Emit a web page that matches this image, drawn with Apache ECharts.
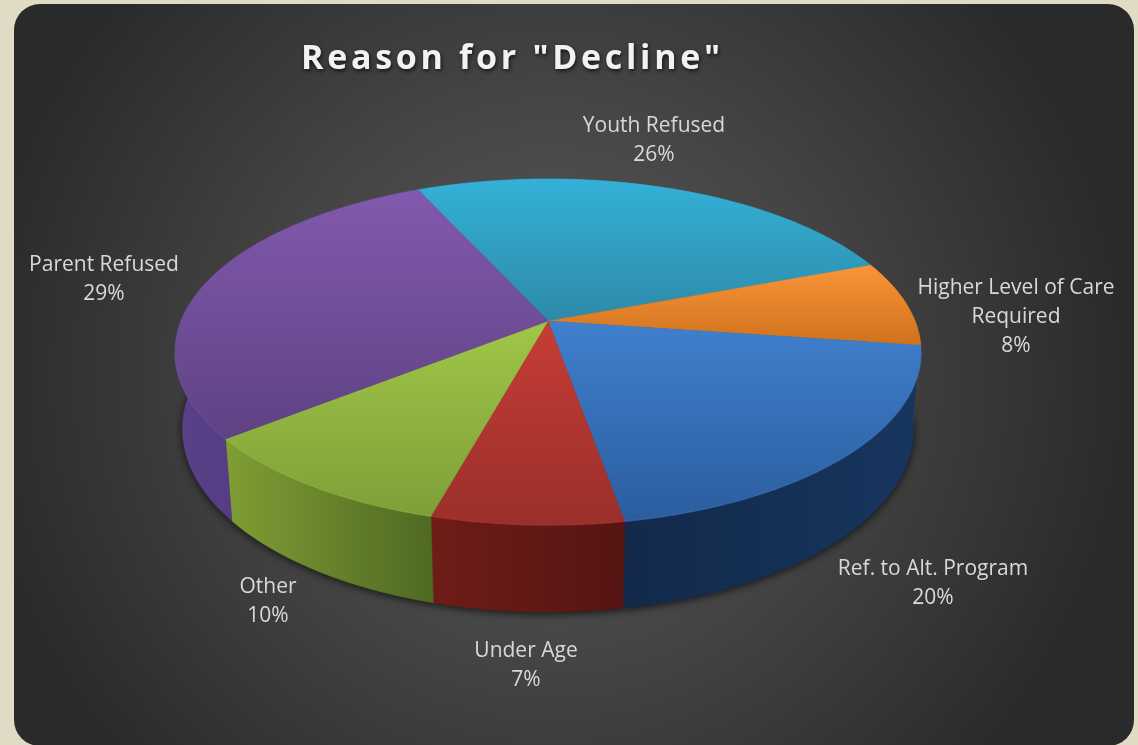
<!DOCTYPE html>
<html>
<head>
<meta charset="utf-8">
<title>Reason for "Decline"</title>
<style>html,body{margin:0;padding:0;background:#dfdbc4}#chart{width:1138px;height:745px}</style>
<script src="https://cdn.jsdelivr.net/npm/echarts@6/dist/echarts.min.js"></script>
</head>
<body>
<div id="chart"></div>
<script>
const categories = ['Youth Refused', 'Higher Level of Care\nRequired', 'Ref. to Alt. Program', 'Under Age', 'Other', 'Parent Refused'];
const percentages = [26, 8, 20, 7, 10, 29];
const chartTitle = 'Reason for "Decline"';

// Per-slice colours: top face (far, near) and side wall (left, right).
const topFar = ['#34b1d8', '#fa9438', '#4080cd', '#c63d36', '#a0c648', '#8259ae'];
const topNear = ['#2d8aa8', '#cf721c', '#2b5d9e', '#9a2f2a', '#7e9f38', '#5e4283'];
const wallLeft = ['#1f6c85', '#a85a12', '#12294a', '#6f1c18', '#7f9e34', '#5a4088'];
const wallRight = ['#1f6c85', '#a85a12', '#17365f', '#551512', '#4e6922', '#4a3270'];
const labelCentres = [[654, 140.5], [1016, 317], [933, 583.5], [526, 665.5], [268, 601.5], [104, 280]];

// Perspective of the disc: a unit circle seen from the near side.
const view = { cx: 548, cy: 321, a: 367, b: 167.5, k: 0.179, startDeg: -24.3 };
// The lower rim of the wall is the top rim, shifted down and slightly narrowed.
const rim = { narrow: 0.98, drop: 82, refY: 438, stretch: 0.057 };

const total = percentages.reduce((s, v) => s + v, 0);

function project(deg) {
  const t = deg * Math.PI / 180;
  const X = Math.sin(t), Y = -Math.cos(t);
  const w = 1 - view.k * Y;
  return [view.cx + view.a * X / w, view.cy + view.b * Y / w];
}
function lower(p) {
  return [view.cx + (p[0] - view.cx) * rim.narrow, p[1] + rim.drop + (p[1] - rim.refY) * rim.stretch];
}
function sliceRange(index) {
  let before = 0;
  for (let i = 0; i < index; i++) before += percentages[i];
  return [view.startDeg + before / total * 360, view.startDeg + (before + percentages[index]) / total * 360];
}
function arc(index) {
  const [from, to] = sliceRange(index);
  const pts = [];
  const steps = Math.ceil(to - from);
  for (let i = 0; i <= steps; i++) pts.push(project(from + (to - from) * i / steps));
  return pts;
}

// Soft shadow cast by the underside of the disc, kept clear of its far edge.
function renderShadow(params) {
  const bottom = arc(params.dataIndex).map(lower);
  return {
    type: 'polygon',
    shape: { points: [lower([view.cx, view.cy])].concat(bottom) },
    style: { fill: '#222', shadowColor: 'rgba(0,0,0,0.7)', shadowBlur: 8, shadowOffsetY: 2 }
  };
}
function renderWall(params) {
  const i = params.dataIndex;
  const top = arc(i);
  const fill = new echarts.graphic.LinearGradient(0, 0, 1, 0, [
    { offset: 0, color: wallLeft[i] }, { offset: 1, color: wallRight[i] }
  ]);
  return {
    type: 'polygon',
    shape: { points: top.concat(top.map(lower).reverse()) },
    style: { fill: fill, stroke: fill, lineWidth: 0.5 }
  };
}
function renderTop(params, api) {
  const i = params.dataIndex;
  const top = arc(i);
  const fill = new echarts.graphic.LinearGradient(0, 0, 0, 1, [
    { offset: 0, color: topFar[i] }, { offset: 1, color: topNear[i] }
  ]);
  const front = top.filter(p => p[1] > view.cy + 30);
  const children = [{
    type: 'polygon',
    shape: { points: [[view.cx, view.cy]].concat(top) },
    style: { fill: fill, stroke: fill, lineWidth: 0.5 }
  }];
  if (front.length > 1) {
    children.push({
      type: 'polyline',
      shape: { points: front },
      style: { fill: null, stroke: topFar[i], lineWidth: 1.5, opacity: 0.35 }
    });
  }
  children.push({
    type: 'text',
    x: labelCentres[i][0],
    y: labelCentres[i][1],
    style: {
      text: categories[i] + '\n' + api.value(0) + '%',
      fill: '#d9d9d9',
      font: '21px "Open Sans"',
      lineHeight: 29,
      align: 'center',
      verticalAlign: 'middle'
    }
  });
  return { type: 'group', children: children };
}

// The title is spaced out letter by letter, which the text style has no setting for.
const drawText = CanvasRenderingContext2D.prototype.fillText;
CanvasRenderingContext2D.prototype.fillText = function (text, x, y, maxWidth) {
  const spaced = text === chartTitle;
  if (spaced) this.letterSpacing = '3.7px';
  if (maxWidth === undefined) drawText.call(this, text, x, y);
  else drawText.call(this, text, x, y, maxWidth);
  if (spaced) this.letterSpacing = '0px';
};

const sliceData = categories.map((name, i) => ({ name: name.replace('\n', ' '), value: percentages[i] }));
const chart = echarts.init(document.getElementById('chart'));
chart.setOption({
  animation: false,
  backgroundColor: '#dfdbc4',
  title: {
    text: chartTitle,
    left: 301,
    top: 42,
    padding: 0,
    textStyle: {
      color: '#f2f2f2',
      fontFamily: 'Open Sans',
      fontWeight: 'bold',
      fontSize: 34,
      textShadowColor: 'rgba(0,0,0,0.7)',
      textShadowBlur: 4,
      textShadowOffsetX: 1,
      textShadowOffsetY: 2
    }
  },
  graphic: [{
    type: 'rect',
    z: -1,
    shape: { x: 14, y: 4, width: 1120, height: 742, r: 26 },
    style: {
      fill: new echarts.graphic.RadialGradient(0.48, 0.5, 0.78, [
        { offset: 0, color: '#5c5c5c' },
        { offset: 0.5, color: '#444444' },
        { offset: 1, color: '#2a2a2a' }
      ])
    }
  }],
  series: [
    { type: 'custom', coordinateSystem: 'none', silent: true, z: 2, renderItem: renderShadow, data: sliceData },
    { type: 'custom', coordinateSystem: 'none', silent: true, z: 3, renderItem: renderWall, data: sliceData },
    { type: 'custom', coordinateSystem: 'none', silent: true, z: 4, renderItem: renderTop, data: sliceData }
  ]
});
</script>
</body>
</html>
